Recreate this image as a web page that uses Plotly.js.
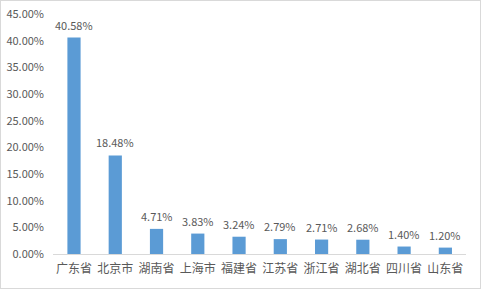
<!DOCTYPE html>
<html>
<head>
<meta charset="utf-8">
<script src="https://cdn.plot.ly/plotly-3.0.1.min.js"></script>
<style>
html,body{margin:0;padding:0;background:#fff;}
#wrap{position:relative;width:481px;height:289px;}
#chart{width:481px;height:289px;}
#frame{position:absolute;left:0;top:0;width:479px;height:287px;border:1px solid #d9d9d9;pointer-events:none;}
</style>
</head>
<body>
<div id="wrap"><div id="chart"></div><div id="frame"></div></div>
<script>
const categories = ["广东省","北京市","湖南省","上海市","福建省","江苏省","浙江省","湖北省","四川省","山东省"];
const values = [40.58, 18.48, 4.71, 3.83, 3.24, 2.79, 2.71, 2.68, 1.40, 1.20];
const yTickVals = [0,5,10,15,20,25,30,35,40,45];

const font = "'Noto Sans CJK SC', 'DejaVu Sans', sans-serif";
const labels = categories.map((c, i) => ({
  x: c, y: values[i], xref: 'x', yref: 'y',
  text: values[i].toFixed(2) + '%',
  showarrow: false, yanchor: 'bottom', yshift: 3,
  font: {family: font, size: 11, color: '#595959'}
}));
Plotly.newPlot('chart', [{
  type: 'bar',
  x: categories,
  y: values,
  marker: {color: '#5b9bd5'},
  cliponaxis: false,
  hoverinfo: 'none'
}], {
  width: 481, height: 289,
  margin: {l: 53, r: 15, t: 14, b: 35, pad: 0},
  paper_bgcolor: '#fff', plot_bgcolor: '#fff',
  bargap: 0.68,
  showlegend: false,
  annotations: labels,
  xaxis: {
    type: 'category',
    showgrid: false, zeroline: false,
    showline: true, linecolor: '#d9d9d9', linewidth: 1,
    ticks: '',
    tickfont: {family: font, size: 12, color: '#595959'},
    ticklabelstandoff: 4,
    fixedrange: true
  },
  yaxis: {
    range: [0, 45],
    tickvals: yTickVals,
    ticktext: yTickVals.map(v => v.toFixed(2) + '%'),
    showgrid: false, zeroline: false, showline: false,
    ticks: '',
    tickfont: {family: font, size: 11, color: '#595959'},
    ticklabelstandoff: 8,
    fixedrange: true
  }
}, {displayModeBar: false, staticPlot: true});
</script>
</body>
</html>
